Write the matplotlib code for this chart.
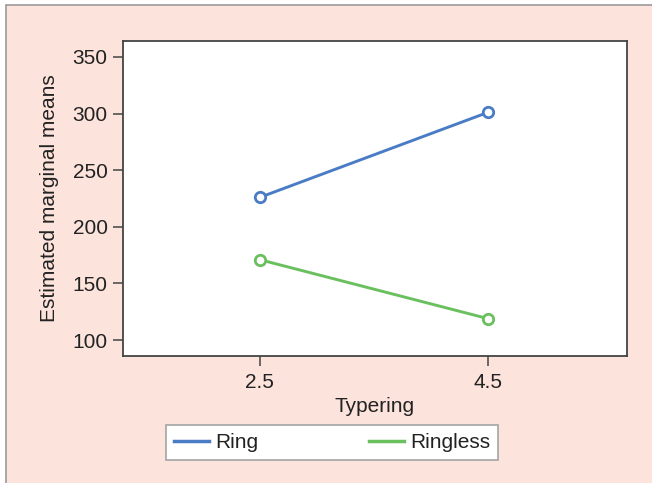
import matplotlib.pyplot as plt
from matplotlib.patches import Rectangle

# Data
typering = [2.5, 4.5]
ring = [226, 301]
ringless = [171, 119]
series_names = ["Ring", "Ringless"]

plt.rcParams['font.family'] = ['Liberation Sans', 'DejaVu Sans']

bg = '#fce3dc'
blue = '#4a7cc5'
green = '#6abf5e'
ink = '#222222'

W, H = 652, 483
fig = plt.figure(figsize=(W / 100, H / 100), dpi=100)
fig.patch.set_facecolor('white')
# pink panel with grey frame; right and bottom edges run off the image
panel = Rectangle((5.5 / W, -0.1), 1.2, 1.1 - 5.5 / H, transform=fig.transFigure,
                  facecolor=bg, edgecolor='#9a9a9a', linewidth=1.2, zorder=-10)
fig.patches.append(panel)

ax = fig.add_axes([123 / W, 1 - 356 / H, 504 / W, 315 / H])
ax.set_facecolor('white')

ax.plot(typering, ring, color=blue, lw=2.1, marker='o', ms=7.5, mfc='white', mec=blue, mew=2,
        label=series_names[0])
ax.plot(typering, ringless, color=green, lw=2.1, marker='o', ms=7.5, mfc='white', mec=green, mew=2,
        label=series_names[1])

ax.set_xlim(1.30, 5.72)
ax.set_ylim(86, 364)
ax.set_xticks(typering)
ax.set_xticklabels(['2.5', '4.5'])
ax.set_yticks([100, 150, 200, 250, 300, 350])

for s in ax.spines.values():
    s.set_color('#444444')
    s.set_linewidth(1.3)
ax.tick_params(labelsize=15, length=7, width=1.1, color='#444444', labelcolor=ink)
ax.tick_params(axis='x', pad=5)
ax.tick_params(axis='y', pad=4)
ax.set_xlabel('Typering', fontsize=15, color=ink, labelpad=4)
ax.set_ylabel('Estimated marginal means', fontsize=15, color=ink, labelpad=10)

handles = [plt.Line2D([], [], color=blue, lw=2.5), plt.Line2D([], [], color=green, lw=2.5)]
leg = fig.legend(handles, series_names, loc='center', bbox_to_anchor=(332 / W, 1 - 442.5 / H),
                 ncol=2, fontsize=15, frameon=True, fancybox=False, handlelength=1.68,
                 handletextpad=0.3, columnspacing=5.3, borderpad=0.4, edgecolor='#aaaaaa',
                 facecolor='white', framealpha=1)
leg.get_frame().set_linewidth(1.3)
for t in leg.get_texts():
    t.set_color(ink)

plt.savefig('out.png', dpi=100, facecolor=fig.get_facecolor())
